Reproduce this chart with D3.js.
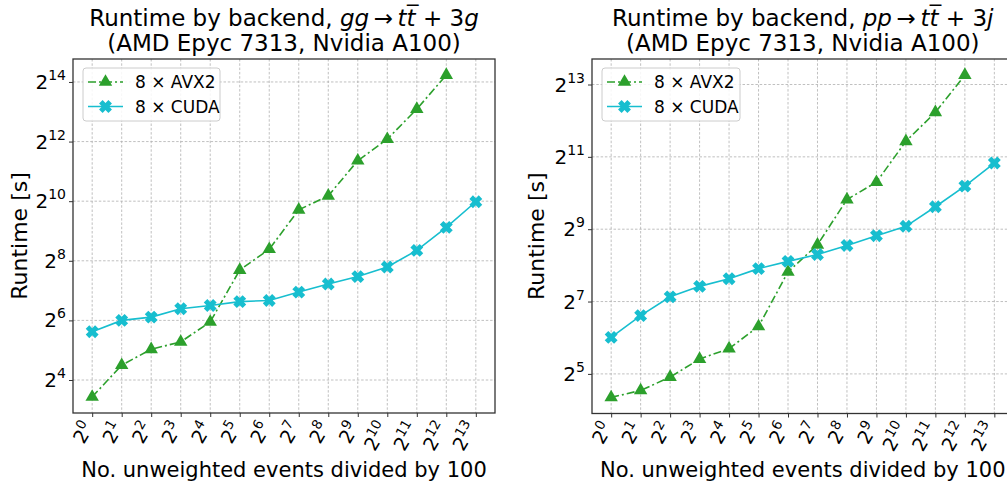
<!DOCTYPE html>
<html>
<head>
<meta charset="utf-8">
<script src="https://cdn.jsdelivr.net/npm/d3@7"></script>
<style>
  body { margin: 0; background: #fff; }
  svg { font-family: "DejaVu Sans", sans-serif; }
</style>
</head>
<body>
<svg id="chart" width="1007" height="489"></svg>
<script>
// x: number of unweighted events / 100 (powers of two)
var events = [1, 2, 4, 8, 16, 32, 64, 128, 256, 512, 1024, 2048, 4096, 8192];
var xTickExp = [0, 1, 2, 3, 4, 5, 6, 7, 8, 9, 10, 11, 12, 13];

// runtimes in seconds
var ggAvx2 = [10.8, 22.6, 32.7, 38.8, 61.8, 206.5, 335, 837, 1160, 2628, 4330, 8716, 19220];
var ggCuda = [49.2, 64.0, 69.1, 83.9, 90.5, 99.1, 101.8, 123.6, 149.1, 177.3, 221.3, 326.2, 556.5, 1010];
var ppAvx2 = [20.4, 23.3, 30.1, 42.5, 52.0, 79.4, 225.9, 380.0, 903.9, 1261, 2759, 4805, 9807];
var ppCuda = [64.4, 97.7, 140.1, 171.2, 198.1, 240.5, 276.3, 315.2, 374.8, 451.9, 541.3, 786.9, 1168, 1820];

var ggYTickExp = [4, 6, 8, 10, 12, 14];
var ppYTickExp = [5, 7, 9, 11, 13];

var seriesNames = ["8 \u00d7 AVX2", "8 \u00d7 CUDA"];

var green = "#2ca02c";
var cyan = "#17becf";

var svg = d3.select("#chart");

function drawPanel(opt) {
	var g = svg.append("g");
	var L = opt.left, R = opt.right, T = opt.top, B = opt.bottom;

	var lx = [Math.log2(events[0]), Math.log2(events[events.length - 1])];
	var padX = (lx[1] - lx[0]) * 0.05;
	var x = d3.scaleLog().base(2)
		.domain([Math.pow(2, lx[0] - padX), Math.pow(2, lx[1] + padX)])
		.range([L, R]);

	var all = opt.avx.concat(opt.cuda);
	var ly = [Math.log2(d3.min(all)), Math.log2(d3.max(all))];
	var padY = (ly[1] - ly[0]) * 0.05;
	var y = d3.scaleLog().base(2)
		.domain([Math.pow(2, ly[0] - padY), Math.pow(2, ly[1] + padY)])
		.range([B, T]);

	// grid
	g.selectAll(".gx").data(xTickExp).enter().append("line")
		.attr("x1", function(d) { return x(Math.pow(2, d)); })
		.attr("x2", function(d) { return x(Math.pow(2, d)); })
		.attr("y1", T).attr("y2", B)
		.attr("stroke", "#b0b0b0").attr("stroke-width", 0.8).attr("stroke-dasharray", "2.5,1.8");
	g.selectAll(".gy").data(opt.yticks).enter().append("line")
		.attr("y1", function(d) { return y(Math.pow(2, d)); })
		.attr("y2", function(d) { return y(Math.pow(2, d)); })
		.attr("x1", L).attr("x2", R)
		.attr("stroke", "#b0b0b0").attr("stroke-width", 0.8).attr("stroke-dasharray", "2.5,1.8");

	// axes
	var xAxis = d3.axisBottom(x).tickValues(xTickExp.map(function(d) { return Math.pow(2, d); }))
		.tickSize(4).tickFormat("");
	var yAxis = d3.axisLeft(y).tickValues(opt.yticks.map(function(d) { return Math.pow(2, d); }))
		.tickSize(4).tickFormat("");
	var gx = g.append("g").attr("transform", "translate(0," + B + ")").call(xAxis);
	var gy = g.append("g").attr("transform", "translate(" + L + ",0)").call(yAxis);
	gx.select(".domain").remove();
	gy.select(".domain").remove();
	g.selectAll(".tick line").attr("stroke", "#333").attr("stroke-width", 1);

	// x tick labels 2^n rotated
	xTickExp.forEach(function(e) {
		var px = x(Math.pow(2, e));
		var t = g.append("text")
			.attr("transform", "translate(" + (px + 2) + "," + (B + 14) + ") rotate(-60)")
			.attr("text-anchor", "end")
			.attr("font-size", 19).attr("fill", "#000");
		t.append("tspan").text("2");
		t.append("tspan").attr("font-size", 13.5).attr("dy", -8).text(e);
	});

	// y tick labels
	opt.yticks.forEach(function(e) {
		var py = y(Math.pow(2, e));
		var t = g.append("text")
			.attr("x", L - 7).attr("y", py + 7)
			.attr("text-anchor", "end")
			.attr("font-size", 20).attr("fill", "#000");
		t.append("tspan").text("2");
		t.append("tspan").attr("font-size", 14).attr("dy", -9).text(e);
	});

	// frame
	g.append("rect").attr("x", L).attr("y", T).attr("width", R - L).attr("height", B - T)
		.attr("fill", "none").attr("stroke", "#333").attr("stroke-width", 1.3);

	// lines
	var line = d3.line()
		.x(function(d, i) { return x(events[i]); })
		.y(function(d) { return y(d); });

	g.append("path").datum(opt.avx).attr("d", line)
		.attr("fill", "none").attr("stroke", green).attr("stroke-width", 1.6)
		.attr("stroke-dasharray", "8,3,2,3");
	g.append("path").datum(opt.cuda).attr("d", line)
		.attr("fill", "none").attr("stroke", cyan).attr("stroke-width", 1.6);

	var tri = d3.symbol().type(d3.symbolTriangle).size(78);
	g.selectAll(".avx").data(opt.avx).enter().append("path")
		.attr("d", tri)
		.attr("transform", function(d, i) { return "translate(" + x(events[i]) + "," + y(d) + ")"; })
		.attr("fill", green);

	g.selectAll(".cuda").data(opt.cuda).enter().append("path")
		.attr("d", xMarker(6.6))
		.attr("transform", function(d, i) { return "translate(" + x(events[i]) + "," + y(d) + ") rotate(45)"; })
		.attr("fill", cyan);

	// legend
	var lg = g.append("g").attr("transform", "translate(" + (L + 10) + "," + (T + 9) + ")");
	lg.append("rect").attr("width", opt.legendW).attr("height", 53).attr("rx", 3)
		.attr("fill", "#fff").attr("fill-opacity", 0.85).attr("stroke", "#ccc").attr("stroke-width", 1);
	[0, 1].forEach(function(k) {
		var cy = 14 + k * 24.5;
		var row = lg.append("g").attr("transform", "translate(0," + cy + ")");
		row.append("line").attr("x1", 5).attr("x2", 40).attr("y1", 0).attr("y2", 0)
			.attr("stroke", k === 0 ? green : cyan).attr("stroke-width", 1.6)
			.attr("stroke-dasharray", k === 0 ? "8,3,2,3" : null);
		if (k === 0) {
			row.append("path").attr("d", tri).attr("transform", "translate(22.5,0)").attr("fill", green);
		} else {
			row.append("path").attr("d", xMarker(6.6)).attr("transform", "translate(22.5,0) rotate(45)").attr("fill", cyan);
		}
		row.append("text").attr("x", 52).attr("y", 6).attr("font-size", 17).attr("fill", "#000")
			.text(seriesNames[k]);
	});

	// title
	var cx = (L + R) / 2;
	var t1 = g.append("text").attr("x", cx).attr("y", 26).attr("text-anchor", "middle")
		.attr("font-size", 23).attr("fill", "#000");
	t1.append("tspan").text("Runtime by backend, ");
	opt.title.forEach(function(p) {
		var s = t1.append("tspan").text(p[0]);
		if (p[1]) s.attr("font-style", "italic");
	});
	g.append("text").attr("x", cx).attr("y", 51).attr("text-anchor", "middle")
		.attr("font-size", 23).attr("fill", "#000")
		.text("(AMD Epyc 7313, Nvidia A100)");

	// axis labels
	g.append("text").attr("transform", "translate(" + opt.ylabX + "," + ((T + B) / 2) + ") rotate(-90)")
		.attr("text-anchor", "middle").attr("font-size", 22).attr("fill", "#000")
		.text("Runtime [s]");
	g.append("text").attr("x", cx).attr("y", 477).attr("text-anchor", "middle")
		.attr("font-size", 21).attr("fill", "#000")
		.text("No. unweighted events divided by 100");
}

// filled "X" marker (a plus, rotated by the transform)
function xMarker(s) {
	var t = s * 0.38;
	return "M" + t + "," + s + "L" + t + "," + t + "L" + s + "," + t + "L" + s + "," + (-t) +
		"L" + t + "," + (-t) + "L" + t + "," + (-s) + "L" + (-t) + "," + (-s) + "L" + (-t) + "," + (-t) +
		"L" + (-s) + "," + (-t) + "L" + (-s) + "," + t + "L" + (-t) + "," + t + "L" + (-t) + "," + s + "Z";
}

drawPanel({
	left: 73, right: 495, top: 59, bottom: 413,
	avx: ggAvx2, cuda: ggCuda, yticks: ggYTickExp, legendW: 137, ylabX: 27,
	title: [["gg", true], ["\u2009\u2192\u2009", false], ["t", true], ["t\u0305", true], [" + 3", false], ["g", true]]
});

drawPanel({
	left: 592, right: 1013.5, top: 59, bottom: 413.5,
	avx: ppAvx2, cuda: ppCuda, yticks: ppYTickExp, legendW: 138, ylabX: 544,
	title: [["pp", true], ["\u2009\u2192\u2009", false], ["t", true], ["t\u0305", true], [" + 3", false], ["j", true]]
});
</script>
</body>
</html>
